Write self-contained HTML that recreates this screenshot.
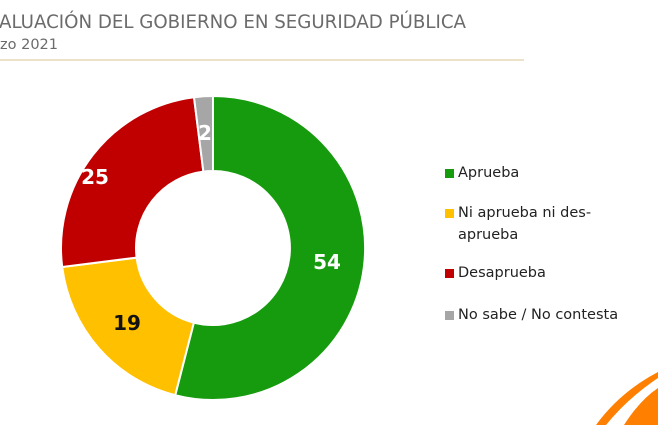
<!DOCTYPE html>
<html><head><meta charset="utf-8"><style>
body{margin:0;width:658px;height:425px;background:#fff;overflow:hidden;position:relative;font-family:"DejaVu Sans","Liberation Sans",sans-serif;}
.t{position:absolute;left:-1px;top:12px;font-size:18.2px;color:#6b6b6b;white-space:nowrap}
.s{position:absolute;left:0;top:37px;font-size:14.5px;color:#6b6b6b}
.l{position:absolute;left:0;top:59px;width:524px;height:2px;background:#ece2c8}
.lg{position:absolute;left:445px;font-size:14.5px;color:#222;line-height:22px}
.lg i{position:absolute;left:0;top:7px;width:9px;height:9px}
.lg span{display:block;padding-left:13px}
</style></head><body>
<div class="t">ALUACIÓN DEL GOBIERNO EN SEGURIDAD PÚBLICA</div>
<div class="s">zo 2021</div>
<div class="l"></div>
<svg width="658" height="425" style="position:absolute;left:0;top:0">
<g stroke="#fff" stroke-width="2">
<path d="M213,96 A152,152 0 1 1 175.2,395.2 L193.85,322.6 A77,77 0 1 0 213,171 Z" fill="#169b0e"/>
<path d="M175.2,395.2 A152,152 0 0 1 62.2,267 L136.6,257.6 A77,77 0 0 0 193.85,322.6 Z" fill="#ffc000"/>
<path d="M62.2,267 A152,152 0 0 1 194,97.2 L203.35,171.6 A77,77 0 0 0 136.6,257.6 Z" fill="#c00000"/>
<path d="M194,97.2 A152,152 0 0 1 213,96 L213,171 A77,77 0 0 0 203.35,171.6 Z" fill="#a6a6a6"/>
</g>
<g font-family="DejaVu Sans,Liberation Sans,sans-serif" font-weight="bold" font-size="20" text-anchor="middle">
<text x="327" y="269" fill="#fff">54</text>
<text x="127" y="330" fill="#111">19</text>
<text x="95" y="184" fill="#fff">25</text>
<text x="205" y="140" fill="#fff">2</text>
</g>
<path d="M596,425 Q620,392 658,372 L658,378 Q628,398 606,425 Z" fill="#ff7f00"/>
<path d="M624,425 Q640,400 658,388 L658,425 Z" fill="#ff7f00"/>
</svg>
<div class="lg" style="top:162px"><i style="background:#169b0e"></i><span>Aprueba</span></div>
<div class="lg" style="top:202px"><i style="background:#ffc000"></i><span>Ni aprueba ni des-<br>aprueba</span></div>
<div class="lg" style="top:262px"><i style="background:#c00000"></i><span>Desaprueba</span></div>
<div class="lg" style="top:304px"><i style="background:#a6a6a6"></i><span>No sabe / No contesta</span></div>
</body></html>
